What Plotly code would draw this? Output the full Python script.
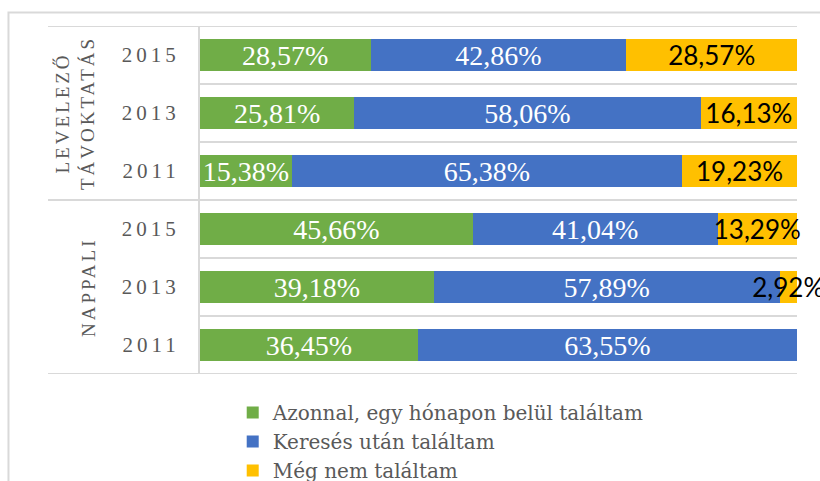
import plotly.graph_objects as go

# ---- data (top to bottom) ----
groups = ["LEVELEZŐ<br>TÁVOKTATÁS", "NAPPALI"]
years = ["2015", "2013", "2011", "2015", "2013", "2011"]
series_names = ["Azonnal, egy hónapon belül találtam",
                "Keresés után találtam",
                "Még nem találtam"]
azonnal = [28.57, 25.81, 15.38, 45.66, 39.18, 36.45]
kereses = [42.86, 58.06, 65.38, 41.04, 57.89, 63.55]
meg_nem = [28.57, 16.13, 19.23, 13.29, 2.92, 0.0]

colors = ["#70AD47", "#4472C4", "#FFC000"]
text_colors = ["white", "white", "black"]
text_fonts = ["Liberation Serif", "Liberation Serif", "Lato"]
text_sizes = [28, 28, 26]

ypos = list(range(len(years)))

def fmt(v):
    return "" if v == 0 else f"{v:.2f}".replace(".", ",") + "%"

fig = go.Figure()
for name, vals, col, tc, tf, ts in zip(series_names, [azonnal, kereses, meg_nem],
                                       colors, text_colors, text_fonts, text_sizes):
    fig.add_trace(go.Bar(
        y=ypos, x=vals, name=name, orientation="h",
        marker=dict(color=col, line=dict(width=0)),
        width=0.56,
        text=[fmt(v) for v in vals], textposition="inside",
        insidetextanchor="middle", textangle=0, constraintext="none",
        cliponaxis=False,
        textfont=dict(color=tc, family=tf, size=ts),
        hoverinfo="skip",
    ))

grid = "#D9D9D9"
tick_text = [f'<span style="letter-spacing:4px">{y}</span>' for y in years]

fig.update_layout(
    width=820, height=481,
    barmode="stack",
    bargap=0,
    paper_bgcolor="white", plot_bgcolor="white",
    margin=dict(l=200, r=23, t=26, b=107, autoexpand=False),
    font=dict(family="Liberation Serif", color="#595959"),
    xaxis=dict(range=[0, 100], visible=False, fixedrange=True),
    yaxis=dict(range=[5.5, -0.5], tickvals=ypos, ticktext=tick_text,
               tickfont=dict(size=21, color="#595959", family="Liberation Serif"),
               ticks="outside", ticklen=14, tickcolor="rgba(0,0,0,0)",
               showgrid=False, zeroline=False, automargin=False,
               showline=True, linecolor=grid, linewidth=2,
               minor=dict(tick0=0.5, dtick=1, showgrid=True, gridcolor=grid,
                          gridwidth=2, ticks=""),
               fixedrange=True),
    legend=dict(x=0.0548, y=-0.0547, xanchor="left", yanchor="top",
                orientation="v", traceorder="normal",
                font=dict(size=20, color="#595959", family="DejaVu Serif"),
                bgcolor="rgba(0,0,0,0)"),
    showlegend=True,
)

# group separator lines extending into the category label area
for yb in [-0.5, 2.5, 5.5]:
    fig.add_shape(type="line", xref="paper", yref="y", x0=-0.2546, x1=1,
                  y0=yb, y1=yb, line=dict(color=grid, width=2))

# outer chart border
fig.add_shape(type="rect", xref="paper", yref="paper",
              x0=-0.3208, x1=1.2, y0=-0.5, y1=1.0388,
              line=dict(color=grid, width=2), fillcolor="rgba(0,0,0,0)",
              layer="below")

# group labels
group_centers = [1, 4]
group_x = [-0.2094, -0.1876]
for g, yc, gx in zip(groups, group_centers, group_x):
    fig.add_annotation(
        x=gx, y=yc, xref="paper", yref="y", textangle=-90, showarrow=False,
        text=f'<span style="letter-spacing:3px">{g}</span>',
        font=dict(size=19, color="#595959", family="Liberation Serif"),
        xanchor="center", yanchor="middle",
    )

fig.write_html(
    "out.html",
    config={"displayModeBar": False, "staticPlot": True},
    post_script="document.body.style.margin='0';document.body.style.overflow='hidden';",
)
